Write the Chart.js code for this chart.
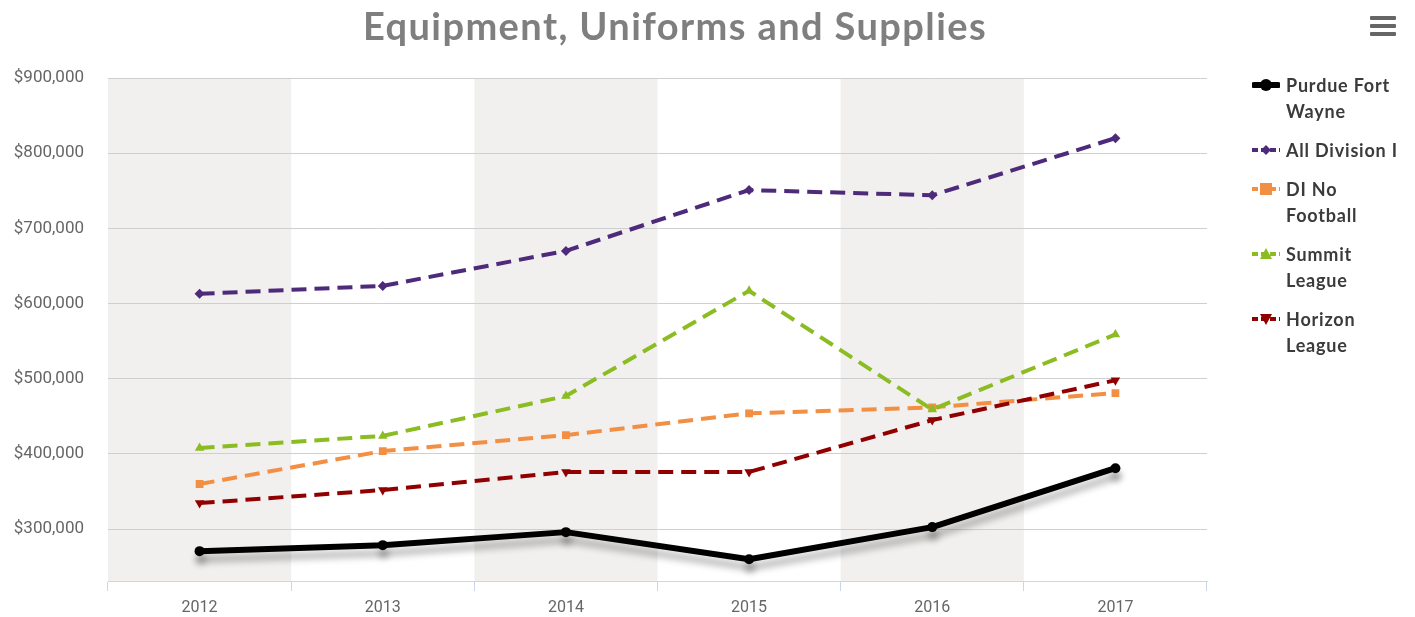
<!DOCTYPE html>
<html>
<head>
<meta charset="utf-8">
<script src="https://cdn.jsdelivr.net/npm/chart.js@4.4.1/dist/chart.umd.min.js"></script>
<style>
  html, body { margin: 0; padding: 0; background: #fff; }
  #wrap { position: relative; width: 1415px; height: 617px; }
  #title {
    position: absolute; left: 0; top: 2px; width: 1350px; text-align: center;
    font-family: 'Lato', sans-serif; font-weight: bold; font-size: 38px; color: #7f7f7f;
    letter-spacing: 1.4px;
  }
  #menu { position: absolute; left: 1370px; top: 16px; width: 26px; }
  #menu div { height: 4px; background: #666; margin-bottom: 4px; border-radius: 1px; }
  #legend {
    position: absolute; left: 1252px; top: 72px; width: 160px;
    font-family: 'Lato', sans-serif; font-weight: bold; font-size: 18px; color: #3b3b3b;
    letter-spacing: 0.8px;
  }
  .item { display: flex; align-items: flex-start; margin-bottom: 13px; line-height: 26px; }
  .item span { width: 122px; }
  .item svg { flex: none; margin-top: 6px; margin-right: 6px; }
</style>
</head>
<body>
<div id="wrap">
  <canvas id="chart" width="1415" height="617"></canvas>
  <div id="title">Equipment, Uniforms and Supplies</div>
  <div id="menu"><div></div><div></div><div></div></div>
  <div id="legend"></div>
</div>
<script>
// data
const years = ['2012', '2013', '2014', '2015', '2016', '2017'];
const purdueFortWayne = [270700, 278700, 296000, 260000, 302700, 381000];
const allDivisionI = [613000, 623500, 670000, 751000, 744000, 820000];
const diNoFootball = [360000, 403800, 425000, 454000, 462000, 481000];
const summitLeague = [408000, 424000, 477000, 617000, 459000, 559000];
const horizonLeague = [334600, 352000, 376000, 376000, 445000, 498000];
const yTicks = [300000, 400000, 500000, 600000, 700000, 800000, 900000];

const seriesNames = ['Purdue Fort Wayne', 'All Division I', 'DI No Football', 'Summit League', 'Horizon League'];
const colors = ['#000000', '#4e2a7a', '#f28f43', '#8bbc21', '#910000'];

const fmt = v => '$' + v.toLocaleString('en-US');

// alternate column bands
const bandsPlugin = {
  id: 'bands',
  beforeDraw(chart) {
    const ctx = chart.ctx;
    const x = chart.scales.x;
    const area = chart.chartArea;
    const half = (x.getPixelForValue(1) - x.getPixelForValue(0)) / 2;
    ctx.save();
    ctx.fillStyle = '#f1f0ef';
    for (let i = 0; i < years.length; i += 2) {
      const c = x.getPixelForValue(i);
      ctx.fillRect(c - half, area.top, half * 2, area.bottom - area.top);
    }
    ctx.restore();
  }
};

// shadow under the black line
const shadowPlugin = {
  id: 'shadow',
  beforeDatasetDraw(chart, args) {
    if (args.index !== 0) return;
    const ctx = chart.ctx;
    ctx.save();
    ctx.shadowColor = 'rgba(0,0,0,0.3)';
    ctx.shadowBlur = 7;
    ctx.shadowOffsetX = 1;
    ctx.shadowOffsetY = 8;
  },
  afterDatasetDraw(chart, args) {
    if (args.index !== 0) return;
    chart.ctx.restore();
  }
};

const dashed = {
  borderWidth: 4,
  borderDash: [15, 8],
  tension: 0,
  fill: false
};

new Chart(document.getElementById('chart'), {
  type: 'line',
  data: {
    labels: years,
    datasets: [
      {
        label: seriesNames[0], data: purdueFortWayne,
        borderColor: colors[0], backgroundColor: colors[0],
        borderWidth: 6, borderCapStyle: 'round', borderJoinStyle: 'round',
        pointStyle: 'circle', pointRadius: 5, pointBorderWidth: 0, order: 5
      },
      Object.assign({
        label: seriesNames[1], data: allDivisionI,
        borderColor: colors[1], backgroundColor: colors[1],
        pointStyle: 'rectRot', pointRadius: 5, pointBorderWidth: 0, order: 4
      }, dashed),
      Object.assign({
        label: seriesNames[2], data: diNoFootball,
        borderColor: colors[2], backgroundColor: colors[2],
        pointStyle: 'rect', pointRadius: 5.5, pointBorderWidth: 0, order: 3
      }, dashed),
      Object.assign({
        label: seriesNames[3], data: summitLeague,
        borderColor: colors[3], backgroundColor: colors[3],
        pointStyle: 'triangle', pointRadius: 5.5, pointBorderWidth: 0, order: 2
      }, dashed),
      Object.assign({
        label: seriesNames[4], data: horizonLeague,
        borderColor: colors[4], backgroundColor: colors[4],
        pointStyle: 'triangle', pointRotation: 180, pointRadius: 5.5, pointBorderWidth: 0, order: 1
      }, dashed)
    ]
  },
  options: {
    responsive: false,
    animation: false,
    layout: { padding: { top: 78, right: 208, left: 0, bottom: 0 } },
    plugins: {
      legend: { display: false },
      title: { display: false },
      tooltip: { enabled: false }
    },
    scales: {
      x: {
        offset: true,
        grid: { offset: true, drawOnChartArea: false, tickLength: 10, color: '#ccd6eb' },
        border: { color: '#ccd6eb' },
        ticks: { color: '#666', padding: 7, font: { family: 'Roboto', size: 16 } },
        afterFit(scale) { scale.height = 36; }
      },
      y: {
        min: 231000,
        max: 900000,
        afterBuildTicks(scale) { scale.ticks = yTicks.map(v => ({ value: v })); },
        grid: { color: '#cfcfcf', drawTicks: false },
        border: { display: false },
        ticks: {
          color: '#666', padding: 24,
          font: { family: 'Roboto', size: 17 },
          callback: v => fmt(v)
        },
        afterFit(scale) { scale.width = 108; }
      }
    }
  },
  plugins: [bandsPlugin, shadowPlugin]
});

// legend
const markers = [
  c => `<circle cx="14" cy="7" r="6" fill="${c}"/>`,
  c => `<rect x="10.5" y="3.5" width="7" height="7" fill="${c}" transform="rotate(45 14 7)"/>`,
  c => `<rect x="8" y="1" width="12" height="12" fill="${c}"/>`,
  c => `<polygon points="14,1 20,12 8,12" fill="${c}"/>`,
  c => `<polygon points="8,2 20,2 14,13" fill="${c}"/>`
];
const legend = document.getElementById('legend');
seriesNames.forEach((name, i) => {
  const c = colors[i];
  const line = i === 0
    ? `<line x1="2" y1="7" x2="26" y2="7" stroke="${c}" stroke-width="6" stroke-linecap="round"/>`
    : `<line x1="0" y1="7" x2="28" y2="7" stroke="${c}" stroke-width="4" stroke-dasharray="6 3"/>`;
  const item = document.createElement('div');
  item.className = 'item';
  item.innerHTML = `<svg width="28" height="14">${line}${markers[i](c)}</svg><span>${name}</span>`;
  legend.appendChild(item);
});
</script>
</body>
</html>
